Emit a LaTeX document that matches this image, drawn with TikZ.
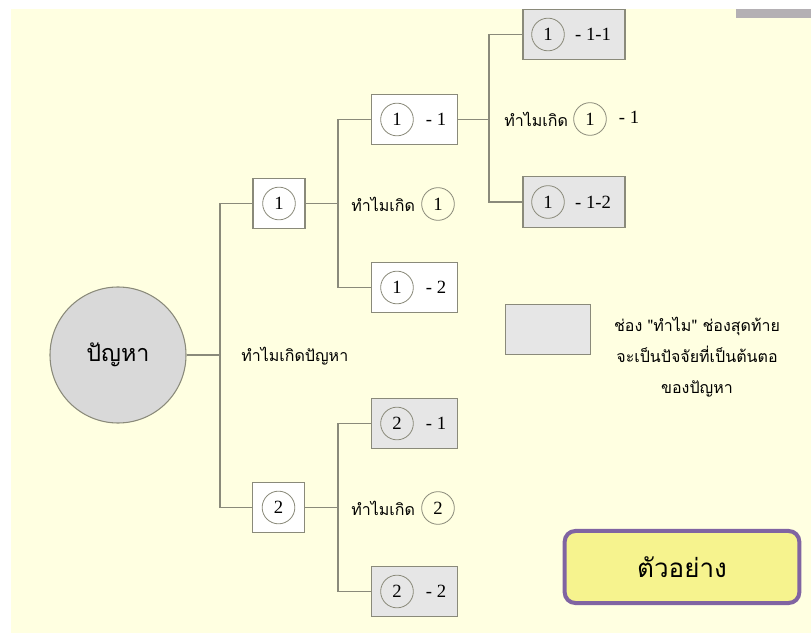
\documentclass[tikz,border=0pt]{standalone}
\usepackage{fontspec}
\setmainfont{Liberation Serif}
\newfontfamily\thai[Script=Thai]{Loma}
\definecolor{bgY}{HTML}{FFFFE1}
\definecolor{lineC}{HTML}{8A8A7A}
\definecolor{boxG}{HTML}{E6E6E6}
\definecolor{circG}{HTML}{D9D9D9}
\definecolor{purp}{HTML}{8064A2}
\definecolor{exY}{HTML}{F6F38E}
\definecolor{barG}{HTML}{B4B0B4}
\begin{document}
\begin{tikzpicture}[x=0.75pt,y=-0.75pt,
  conn/.style={draw=lineC, line width=0.8pt},
  sqbox/.style={draw=lineC, line width=0.8pt, fill=white, minimum width=39pt, minimum height=38pt, inner sep=0pt},
  midbox/.style={draw=lineC, line width=0.8pt, fill=white, minimum width=64pt, minimum height=38pt, inner sep=0pt},
  gbox/.style={midbox, fill=boxG},
  widebox/.style={draw=lineC, line width=0.8pt, fill=boxG, minimum width=76.5pt, minimum height=38pt, inner sep=0pt},
  cnum/.style={draw=lineC, line width=0.6pt, circle, minimum size=24.5pt, inner sep=0pt, font=\fontsize{14}{16}\selectfont},
  lbl/.style={inner sep=0pt, font=\fontsize{14}{16}\selectfont},
  tlbl/.style={inner sep=0pt, font=\thai\fontsize{12}{14}\selectfont},
]
\useasboundingbox (0,0) rectangle (811,634);
\fill[bgY] (11,9) rectangle (811,633);
\fill[barG] (736,9) rectangle (811,18);

% root
\node[circle, draw=lineC, line width=0.8pt, fill=circG, minimum size=102pt, inner sep=0pt,
      font=\thai\fontsize{17.5}{20}\selectfont] (root) at (118,355) {ปัญหา};
\coordinate (j0) at (220,355);
\node[tlbl, anchor=west] (why0) at (241,356) {ทำไมเกิดปัญหา};

% level 1
\node[sqbox] (b1) at (279,203.5) {};
\node[cnum] (c1) at (b1) {1};
\node[sqbox] (b2) at (278.5,507.5) {};
\node[cnum] (c2) at (b2) {2};

\draw[conn] (root.east) -- (j0);
\draw[conn] (j0) |- (b1.west);
\draw[conn] (j0) |- (b2.west);

% level 2 under 1
\coordinate (j1) at (338,203.5);
\node[midbox] (b11) at (414.5,119.5) {};
\node[cnum] (c11) at (397,119.5) {1};
\node[lbl] (t11) at (436,119.5) {- 1};
\node[midbox] (b12) at (414.5,287.5) {};
\node[cnum] (c12) at (397,287.5) {1};
\node[lbl] (t12) at (436,287.5) {- 2};
\draw[conn] (b1.east) -- (j1);
\draw[conn] (j1) |- (b11.west);
\draw[conn] (j1) |- (b12.west);
\node[tlbl, anchor=west] (why1) at (351,204) {ทำไมเกิด};
\node[cnum] (wc1) at (438,204) {1};

% level 2 under 2
\coordinate (j2) at (338,507.5);
\node[gbox] (b21) at (414.5,423.5) {};
\node[cnum] (c21) at (397,423.5) {2};
\node[lbl] (t21) at (436,423.5) {- 1};
\node[gbox] (b22) at (414.5,591.5) {};
\node[cnum] (c22) at (397,591.5) {2};
\node[lbl] (t22) at (436,591.5) {- 2};
\draw[conn] (b2.east) -- (j2);
\draw[conn] (j2) |- (b21.west);
\draw[conn] (j2) |- (b22.west);
\node[tlbl, anchor=west] (why2) at (351,508) {ทำไมเกิด};
\node[cnum] (wc2) at (438,508) {2};

% level 3 under 1-1
\coordinate (j11) at (489,119.5);
\node[widebox] (b111) at (574,34.5) {};
\node[cnum] (c111) at (548,34.5) {1};
\node[lbl] (t111) at (593,34.5) {- 1-1};
\node[widebox] (b112) at (574,202) {};
\node[cnum] (c112) at (548,202) {1};
\node[lbl] (t112) at (593,202) {- 1-2};
\draw[conn] (b11.east) -- (j11);
\draw[conn] (j11) |- (b111.west);
\draw[conn] (j11) |- (b112.west);
\node[tlbl, anchor=west] (why11) at (504,119) {ทำไมเกิด};
\node[cnum] (wc11) at (590,119) {1};
\node[lbl] (wt11) at (629,117) {- 1};

% legend
\node[draw=lineC, line width=0.8pt, fill=boxG, minimum width=64pt, minimum height=38pt, inner sep=0pt] (leg) at (548,329.5) {};
\node[tlbl, align=center, font=\thai\fontsize{12}{23}\selectfont] (legt) at (697,357)
  {ช่อง "ทำไม" ช่องสุดท้าย\\จะเป็นปัจจัยที่เป็นต้นตอ\\ของปัญหา};

% example tag
\node[draw=purp, line width=3pt, fill=exY, rounded corners=8pt, minimum width=176pt, minimum height=54pt,
      inner sep=0pt, font=\thai\fontsize{19.5}{22}\selectfont] (ex) at (682,567) {ตัวอย่าง};
\end{tikzpicture}
\end{document}
